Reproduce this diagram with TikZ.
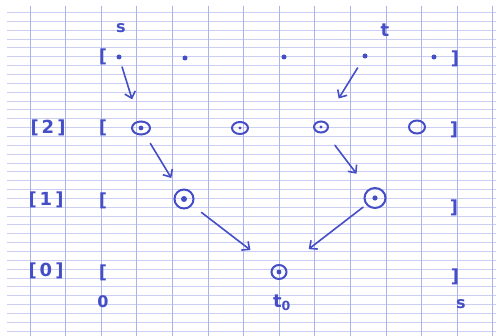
\documentclass[tikz,border=0pt]{standalone}
\usepackage{fontspec}
\setmainfont{DejaVu Sans}
\usetikzlibrary{arrows.meta,shapes.geometric}
\definecolor{ink}{RGB}{68,78,198}
\definecolor{hline}{RGB}{204,207,243}
\definecolor{vline}{RGB}{172,178,236}
\tikzset{
  hand/.style={text=ink,inner sep=0pt,font=\fontsize{18}{20}\selectfont\bfseries},
  handsm/.style={text=ink,inner sep=0pt,font=\fontsize{16}{18}\selectfont\bfseries},
  pt/.style={circle,fill=ink,inner sep=0pt,minimum size=5pt},
  ring/.style={ellipse,draw=ink,line width=2pt,inner sep=0pt},
  arr/.style={draw=ink,line width=1.6pt,line cap=round,-{Straight Barb[length=6pt,width=11pt]}},
}
\begin{document}
\begin{tikzpicture}[x=1pt,y=-1pt]
\useasboundingbox[fill=white] (0,0) rectangle (496,336);
% paper
\foreach \k in {0,...,36} \draw[hline,line width=0.8pt] (7,12.5+8.85*\k) -- (496,12.5+8.85*\k);
\foreach \k in {0,...,13} \draw[vline,line width=1pt] (30+35.6*\k,6) -- (30+35.6*\k,336);
% top row
\node[handsm] (ls) at (121,28) {s};
\node[hand] (lt) at (385,30) {t};
\node[hand] (lb3) at (103,57) {[};
\node[pt] (d1) at (119,57) {};
\node[pt] (d2) at (185,58) {};
\node[pt] (d3) at (284,57) {};
\node[pt] (d4) at (365,56) {};
\node[pt] (d5) at (434,57) {};
\node[hand] (rb3) at (455,59) {]};
% row 2
\node[hand] (lab2) at (48,128) {[\,2\,]};
\node[hand] (lb2) at (103,128) {[};
\node[ring,minimum width=18pt,minimum height=13pt] (c21) at (141,128) {};
\node[ring,minimum width=16pt,minimum height=12pt] (c22) at (240,128) {};
\node[ring,minimum width=14pt,minimum height=11pt] (c23) at (321,127) {};
\node[ring,minimum width=16pt,minimum height=13pt] (c24) at (417,127) {};
\node[hand] (rb2) at (454,130) {]};
% row 1
\node[hand] (lab1) at (46,200) {[\,1\,]};
\node[hand] (lb1) at (103,201) {[};
\node[ring,minimum width=19pt,minimum height=19pt] (c11) at (184,199) {};
\node[ring,minimum width=21pt,minimum height=20pt] (c12) at (375,198) {};
\node[hand] (rb1) at (454,208) {]};
% row 0
\node[hand] (lab0) at (46,271) {[\,0\,]};
\node[hand] (lb0) at (103,273) {[};
\node[ring,minimum width=15pt,minimum height=14pt] (c0) at (279,272) {};
\node[hand] (rb0) at (455,277) {]};
% inner dots
\foreach \n/\r in {c21/2.4,c22/1.6,c23/1.6,c11/3,c12/2.6,c0/2.4} \fill[ink] (\n.center) circle[radius=\r];
% bottom labels
\node[handsm] (b0) at (103,302) {0};
\node[hand] (bt) at (282,303) {t\textsubscript{0}};
\node[handsm] (bs) at (461,304) {s};
% arrows
\draw[arr,shorten <=10.5pt,shorten >=30pt] (d1.center) -- (c21.center);
\draw[arr,shorten <=14pt,shorten >=33.5pt] (d4.center) -- (c23.center);
\draw[arr,shorten <=18pt,shorten >=24.5pt] (c21.center) -- (c11.center);
\draw[arr,shorten <=23pt,shorten >=30.5pt] (c23.center) -- (c12.center);
\draw[arr,shorten <=22pt,shorten >=36pt] (c11.center) -- (c0.center);
\draw[arr,shorten <=15pt,shorten >=37.5pt] (c12.center) -- (c0.center);
\end{tikzpicture}
\end{document}
